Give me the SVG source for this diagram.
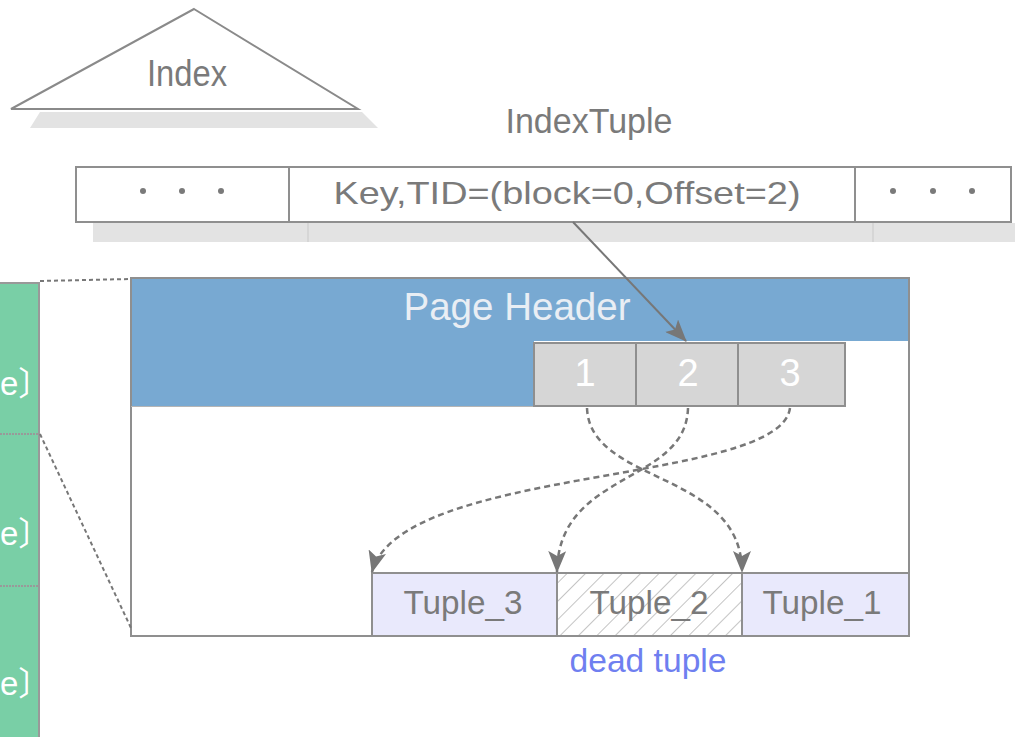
<svg xmlns="http://www.w3.org/2000/svg" width="1015" height="737" viewBox="0 0 1015 737">
  <style>
    .lbl { font-family: "Liberation Sans", Arial, sans-serif; fill: #7a7a7a; text-anchor: middle; }
    .box { stroke: #8f8f8f; stroke-width: 2; }
    .shadow { fill: #e3e3e3; }
    .dash { fill: none; stroke: #777; stroke-width: 2.5; stroke-dasharray: 6 4; marker-end: url(#head); }
    .guide { fill: none; stroke: #777; stroke-width: 2; stroke-dasharray: 4 3; }
    .slot { fill: #d6d6d6; stroke: #8f8f8f; stroke-width: 2; }
    .slotnum { font-family: "Liberation Sans", Arial, sans-serif; fill: #ffffff; font-size: 38px; text-anchor: middle; }
    .tuple { fill: #e9e9fc; stroke: #8f8f8f; stroke-width: 2; }
    .side { font-family: "Liberation Sans", "Noto Sans CJK KR", sans-serif; fill: #ffffff; font-size: 33px; }
  </style>
  <defs>
    <marker id="head" markerUnits="userSpaceOnUse" markerWidth="24" markerHeight="18" refX="21" refY="9" orient="auto">
      <path d="M0,0 L22,9 L0,18 L5,9 z" fill="#777"/>
    </marker>
    <marker id="solidhead" markerUnits="userSpaceOnUse" markerWidth="24" markerHeight="18" refX="21" refY="9" orient="auto">
      <path d="M0,0 L22,9 L0,18 L5,9 z" fill="#777"/>
    </marker>
    <pattern id="hatch" patternUnits="userSpaceOnUse" width="13" height="13" patternTransform="rotate(45)">
      <rect width="13" height="13" fill="#ffffff"/>
      <line x1="0" y1="0" x2="0" y2="13" stroke="#c4c4c4" stroke-width="2"/>
    </pattern>
  </defs>

  <rect width="1015" height="737" fill="#ffffff"/>

  <!-- index tree -->
  <g id="index">
    <polygon class="shadow" points="40,112 362,112 378,128 30,128"/>
    <polygon points="194,9 358,109 11,109" fill="#ffffff" stroke="#8a8a8a" stroke-width="2"/>
    <text class="lbl" x="187" y="86" font-size="36" textLength="80" lengthAdjust="spacingAndGlyphs">Index</text>
  </g>

  <g id="indextuple-label">
    <text class="lbl" x="589" y="133" font-size="35" textLength="167" lengthAdjust="spacingAndGlyphs">IndexTuple</text>
  </g>

  <!-- index tuple row -->
  <g id="indextuple">
    <rect class="shadow" x="93" y="223" width="922" height="19"/>
    <line x1="308" y1="223" x2="308" y2="242" stroke="#d2d2d2" stroke-width="1.5"/>
    <line x1="873" y1="223" x2="873" y2="242" stroke="#d2d2d2" stroke-width="1.5"/>
    <rect class="box" x="76" y="167" width="935" height="55" fill="#ffffff"/>
    <line class="box" x1="289" y1="167" x2="289" y2="222"/>
    <line class="box" x1="855" y1="167" x2="855" y2="222"/>
    <g fill="#7a7a7a">
      <circle cx="143" cy="191" r="3"/>
      <circle cx="182" cy="191" r="3"/>
      <circle cx="221" cy="191" r="3"/>
      <circle cx="893" cy="191" r="3"/>
      <circle cx="933" cy="191" r="3"/>
      <circle cx="972" cy="191" r="3"/>
    </g>
    <text class="lbl" x="567" y="204" font-size="32" textLength="467" lengthAdjust="spacingAndGlyphs">Key,TID=(block=0,Offset=2)</text>
  </g>

  <!-- neighbouring pages column -->
  <g id="pages">
    <rect x="-2" y="283" width="41" height="456" fill="#79cfa6" stroke="#999" stroke-width="2"/>
    <line x1="0" y1="434" x2="39" y2="434" stroke="#999" stroke-width="2" stroke-dasharray="2 1"/>
    <line x1="0" y1="586" x2="39" y2="586" stroke="#999" stroke-width="2" stroke-dasharray="2 1"/>
    <text class="side" x="0" y="395">e〕</text>
    <text class="side" x="0" y="545">e〕</text>
    <text class="side" x="0" y="695">e〕</text>
  </g>

  <!-- heap page -->
  <g id="page">
    <rect class="box" x="131" y="278" width="778" height="358" fill="#ffffff"/>
    <rect x="132" y="279" width="776" height="62" fill="#78a9d2"/>
    <rect x="132" y="340" width="402" height="66" fill="#78a9d2"/>
    <line x1="131" y1="406.5" x2="534" y2="406.5" stroke="#b5b5b5" stroke-width="1"/>
    <text x="517" y="320" font-family="Liberation Sans, Arial, sans-serif" font-size="38" fill="#e9eef4" text-anchor="middle" textLength="227" lengthAdjust="spacingAndGlyphs">Page Header</text>
  </g>

  <g id="slot1">
    <rect class="slot" x="534" y="343" width="102" height="63"/>
    <text class="slotnum" x="585" y="386">1</text>
  </g>
  <g id="slot2">
    <rect class="slot" x="636" y="343" width="102" height="63"/>
    <text class="slotnum" x="688" y="386">2</text>
  </g>
  <g id="slot3">
    <rect class="slot" x="738" y="343" width="107" height="63"/>
    <text class="slotnum" x="790" y="386">3</text>
  </g>

  <g id="tuple3">
    <rect class="tuple" x="372" y="573" width="185" height="63"/>
    <text class="lbl" x="463" y="614" font-size="34" textLength="119" lengthAdjust="spacingAndGlyphs">Tuple_3</text>
  </g>
  <g id="tuple2">
    <rect x="557" y="573" width="185" height="63" fill="url(#hatch)" stroke="#8f8f8f" stroke-width="2"/>
    <text class="lbl" x="649" y="614" font-size="34" textLength="119" lengthAdjust="spacingAndGlyphs">Tuple_2</text>
  </g>
  <g id="tuple1">
    <rect class="tuple" x="742" y="573" width="167" height="63"/>
    <text class="lbl" x="822" y="614" font-size="34" textLength="119" lengthAdjust="spacingAndGlyphs">Tuple_1</text>
  </g>

  <g id="dead-label">
    <text x="648" y="672" font-family="Liberation Sans, Arial, sans-serif" font-size="33" fill="#6f7ff0" text-anchor="middle" textLength="157" lengthAdjust="spacingAndGlyphs">dead tuple</text>
  </g>

  <!-- connectors -->
  <g id="connectors">
    <line class="guide" x1="40" y1="281" x2="131" y2="279"/>
    <line class="guide" x1="40" y1="434" x2="131" y2="628"/>
    <line x1="573" y1="222" x2="686" y2="341" stroke="#777" stroke-width="2" marker-end="url(#solidhead)"/>
    <path class="dash" d="M587,408 C590,485 742,470 742,572"/>
    <path class="dash" d="M688,408 C686,485 558,470 557,572"/>
    <path class="dash" d="M790,408 C780,485 400,465 372,572"/>
  </g>
</svg>
